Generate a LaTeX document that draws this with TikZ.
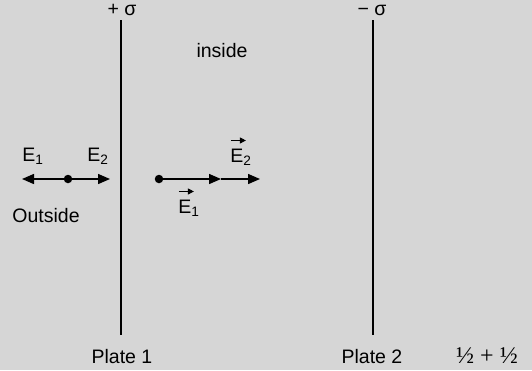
\documentclass[tikz,border=0pt]{standalone}
\usepackage{fontspec}
\setmainfont{Liberation Sans}
\newfontfamily\seriffont{Liberation Serif}
\usetikzlibrary{arrows.meta}
\definecolor{bg}{HTML}{D6D6D6}
\newcommand\arrowE{\leavevmode\rlap{\raisebox{0.95em}{\tikz\draw[-{Triangle[length=6pt,width=6pt]},line width=0.9pt] (0,0) -- (15pt,0);}}E}
\begin{document}
\begin{tikzpicture}[x=1pt,y=-1pt,
  lbl/.style={inner sep=0pt,font=\fontsize{19.5}{22}\selectfont},
  plate/.style={line width=1.8pt},
  field/.style={line width=1.4pt},
  tip/.style={-{Triangle[length=12pt,width=10pt]}},
  dotnode/.style={circle,fill=black,inner sep=0pt,minimum size=8.5pt}]
\fill[bg] (0,0) rectangle (532,370);
\useasboundingbox (0,0) rectangle (532,370);
% plates
\coordinate (p1t) at (121,20); \coordinate (p1b) at (121,335);
\coordinate (p2t) at (373,20); \coordinate (p2b) at (373,335);
\draw[plate] (p1t) -- (p1b);
\draw[plate] (p2t) -- (p2b);
\node[lbl,anchor=base] (sp) at (122,15) {+ σ};
\node[lbl,anchor=base] (sm) at (372,15) {− σ};
\node[lbl,anchor=base] (ins) at (222,57) {inside};
\node[lbl,anchor=base] (pl1) at (122,363) {Plate 1};
\node[lbl,anchor=base] (pl2) at (372,363) {Plate 2};
\node[lbl,anchor=base,font=\seriffont\fontsize{24}{26}\selectfont] (half) at (487,363) {½ + ½};
% outside
\node[dotnode] (d1) at (68,179) {};
\coordinate (l1) at (22,179);
\coordinate (r1) at (110,179);
\draw[field,tip] (d1) -- (l1);
\draw[field,tip] (d1) -- (r1);
\node[lbl,anchor=base] (e1o) at (33,161) {E\textsubscript{1}};
\node[lbl,anchor=base] (e2o) at (98,161) {E\textsubscript{2}};
\node[lbl,anchor=base] (out) at (46,222) {Outside};
% inside
\node[dotnode] (d2) at (159,179) {};
\coordinate (m2) at (221,179);
\coordinate (r2) at (260,179);
\draw[field,tip] (d2) -- (m2);
\draw[field,tip] (m2) -- (r2);
\node[lbl,anchor=base] (e2i) at (241,162) {\arrowE\textsubscript{2}};
\node[lbl,anchor=base] (e1i) at (189,213) {\arrowE\textsubscript{1}};
\end{tikzpicture}
\end{document}
